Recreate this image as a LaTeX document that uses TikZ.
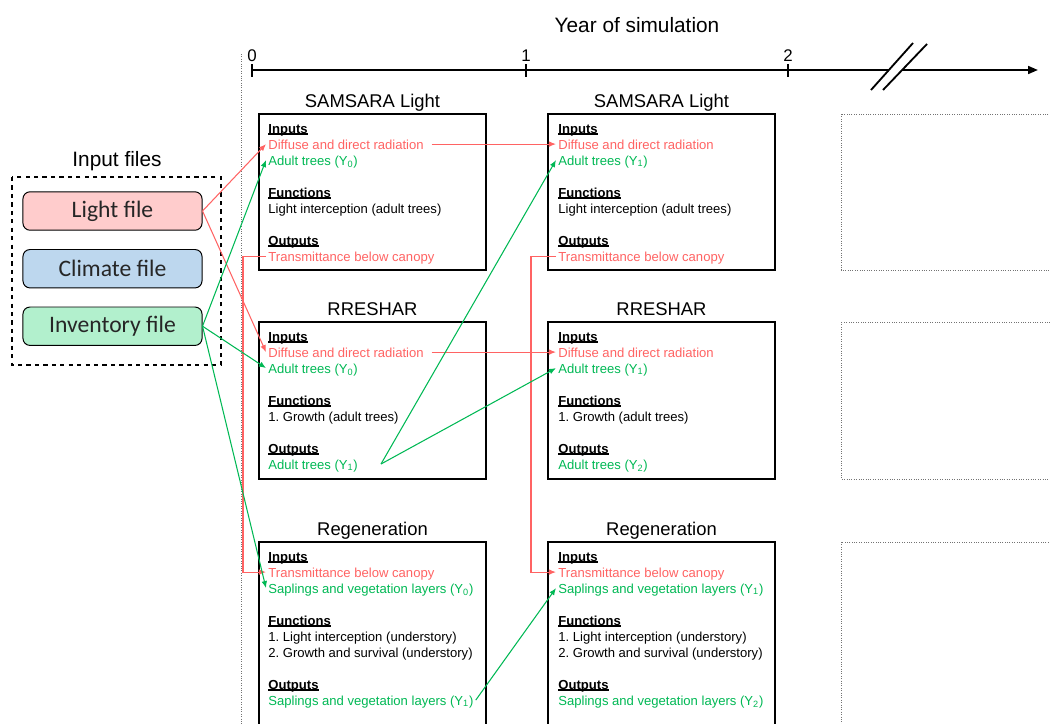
\documentclass[tikz,border=0pt]{standalone}
\usepackage{fontspec}
\setmainfont{Liberation Sans}
\newfontfamily\filefont{Carlito}
\usetikzlibrary{arrows.meta}
\frenchspacing

\definecolor{flowred}{RGB}{255,99,99}
\definecolor{flowgreen}{RGB}{0,184,84}
\definecolor{lightfill}{RGB}{255,204,204}
\definecolor{climatefill}{RGB}{189,215,238}
\definecolor{inventoryfill}{RGB}{178,240,205}
\definecolor{darktext}{RGB}{38,38,38}

\newcommand{\ulhead}[1]{\setbox0\hbox{#1}\rlap{\rule[-1.3pt]{\wd0}{1pt}}\box0}

\begin{document}
\begin{tikzpicture}[x=0.025cm, y=-0.025cm,
  txtline/.style={anchor=base west, inner xsep=1.5pt, inner ysep=0pt,
    text height=0.7em, text depth=0pt, font=\fontsize{9.3}{11}\selectfont},
  hd/.style={txtline, font=\fontsize{9.3}{11}\selectfont\bfseries},
  redtxt/.style={text=flowred},
  greentxt/.style={text=flowgreen},
  ttl/.style={anchor=base, inner sep=0pt, font=\fontsize{13.1}{15}\selectfont},
  modbox/.style={draw, line width=0.9pt},
  emptybox/.style={draw=black!55, densely dotted, line width=0.7pt},
  filebox/.style={draw, line width=0.7pt, rounded corners=5pt, minimum width=4.475cm,
    minimum height=0.96cm, text=darktext, font=\filefont\fontsize{16.8}{18}\selectfont},
  redflow/.style={draw=flowred, line width=0.75pt, -{Latex[length=5pt,width=4pt]}},
  greenflow/.style={draw=flowgreen, line width=0.75pt, -{Latex[length=5pt,width=4pt]}},
  axis/.style={line width=1.5pt}]
  \useasboundingbox (0,0) rectangle (1050,723);
  \clip (0,0) rectangle (1050,723);

  % Coordinates
  \coordinate (bus0) at (243,0);
  \coordinate (bus1) at (531,0);
  \coordinate (rr0-fork) at (381,464);

  % Time axis
  \node[anchor=base, font=\fontsize{14.8}{16}\selectfont] (yr) at (637,32) {Year of simulation};
  \draw[axis] (252,70) -- (889,70);
  \draw[axis, -{Triangle[length=7pt,width=5.5pt]}] (902,70) -- (1038,70);
  \draw[axis] (252,64) -- (252,77);
  \draw[axis] (526,64) -- (526,77);
  \draw[axis] (788,64) -- (788,77);
  \draw[line width=1.3pt] (871,90) -- (913,43);
  \draw[line width=1.3pt] (883,90) -- (927,44);
  \node[anchor=base, inner sep=0pt, font=\fontsize{12}{14}\selectfont] (t0) at (252,61) {0};
  \node[anchor=base, inner sep=0pt, font=\fontsize{12}{14}\selectfont] (t1) at (526,61) {1};
  \node[anchor=base, inner sep=0pt, font=\fontsize{12}{14}\selectfont] (t2) at (788,61) {2};
  \draw[black!55, densely dotted, line width=0.7pt] (241,54) -- (241,730);

  % Input files
  \node[anchor=base, inner sep=0pt, font=\fontsize{14.8}{16}\selectfont] (inputs) at (117,166) {Input files};
  \draw[dashed, line width=0.8pt] (12,177) rectangle (221,365);
  \node[filebox, fill=lightfill] (lightf) at (112.5,211) {Light file};
  \node[filebox, fill=climatefill] (climf) at (112.5,268.7) {Climate file};
  \node[filebox, fill=inventoryfill] (inventf) at (112.5,326.2) {Inventory file};

  % SAMSARA Light, year 0
  \node[ttl] (sl0) at (372.5,107) {SAMSARA Light};
  \draw[modbox] (259,114) rectangle (486,270);
  \node[hd] (sl0-in) at (266,133) {\ulhead{Inputs}};
  \node[txtline, redtxt] (sl0-rad) at (266,149) {Diffuse and direct radiation};
  \node[txtline, greentxt] (sl0-adult) at (266,165) {Adult trees (Y\textsubscript{0})};
  \node[hd] (sl0-fn) at (266,197) {\ulhead{Functions}};
  \node[txtline] (sl0-f1) at (266,213) {Light interception (adult trees)};
  \node[hd] (sl0-out) at (266,245) {\ulhead{Outputs}};
  \node[txtline, redtxt] (sl0-trans) at (266,261) {Transmittance below canopy};

  % SAMSARA Light, year 1
  \node[ttl] (sl1) at (661.5,107) {SAMSARA Light};
  \draw[modbox] (548,114) rectangle (775,270);
  \node[hd] (sl1-in) at (556,133) {\ulhead{Inputs}};
  \node[txtline, redtxt] (sl1-rad) at (556,149) {Diffuse and direct radiation};
  \node[txtline, greentxt] (sl1-adult) at (556,165) {Adult trees (Y\textsubscript{1})};
  \node[hd] (sl1-fn) at (556,197) {\ulhead{Functions}};
  \node[txtline] (sl1-f1) at (556,213) {Light interception (adult trees)};
  \node[hd] (sl1-out) at (556,245) {\ulhead{Outputs}};
  \node[txtline, redtxt] (sl1-trans) at (556,261) {Transmittance below canopy};

  % RRESHAR, year 0
  \node[ttl] (rr0) at (372.5,315) {RRESHAR};
  \draw[modbox] (259,322) rectangle (486,479);
  \node[hd] (rr0-in) at (266,341) {\ulhead{Inputs}};
  \node[txtline, redtxt] (rr0-rad) at (266,357) {Diffuse and direct radiation};
  \node[txtline, greentxt] (rr0-adult) at (266,373) {Adult trees (Y\textsubscript{0})};
  \node[hd] (rr0-fn) at (266,405) {\ulhead{Functions}};
  \node[txtline] (rr0-f1) at (266,421) {1. Growth (adult trees)};
  \node[hd] (rr0-out) at (266,453) {\ulhead{Outputs}};
  \node[txtline, greentxt] (rr0-res) at (266,469) {Adult trees (Y\textsubscript{1})};

  % RRESHAR, year 1
  \node[ttl] (rr1) at (661.5,315) {RRESHAR};
  \draw[modbox] (548,322) rectangle (775,479);
  \node[hd] (rr1-in) at (556,341) {\ulhead{Inputs}};
  \node[txtline, redtxt] (rr1-rad) at (556,357) {Diffuse and direct radiation};
  \node[txtline, greentxt] (rr1-adult) at (556,373) {Adult trees (Y\textsubscript{1})};
  \node[hd] (rr1-fn) at (556,405) {\ulhead{Functions}};
  \node[txtline] (rr1-f1) at (556,421) {1. Growth (adult trees)};
  \node[hd] (rr1-out) at (556,453) {\ulhead{Outputs}};
  \node[txtline, greentxt] (rr1-res) at (556,469) {Adult trees (Y\textsubscript{2})};

  % Regeneration, year 0
  \node[ttl] (rg0) at (372.5,535) {Regeneration};
  \draw[modbox] (259,542) rectangle (486,740);
  \node[hd] (rg0-in) at (266,561) {\ulhead{Inputs}};
  \node[txtline, redtxt] (rg0-trans) at (266,577) {Transmittance below canopy};
  \node[txtline, greentxt] (rg0-sap) at (266,593) {Saplings and vegetation layers (Y\textsubscript{0})};
  \node[hd] (rg0-fn) at (266,625) {\ulhead{Functions}};
  \node[txtline] (rg0-f1) at (266,641) {1. Light interception (understory)};
  \node[txtline] (rg0-f2) at (266,657) {2. Growth and survival (understory)};
  \node[hd] (rg0-outh) at (266,689) {\ulhead{Outputs}};
  \node[txtline, greentxt] (rg0-out) at (266,705) {Saplings and vegetation layers (Y\textsubscript{1})};

  % Regeneration, year 1
  \node[ttl] (rg1) at (661.5,535) {Regeneration};
  \draw[modbox] (548,542) rectangle (775,740);
  \node[hd] (rg1-in) at (556,561) {\ulhead{Inputs}};
  \node[txtline, redtxt] (rg1-trans) at (556,577) {Transmittance below canopy};
  \node[txtline, greentxt] (rg1-sap) at (556,593) {Saplings and vegetation layers (Y\textsubscript{1})};
  \node[hd] (rg1-fn) at (556,625) {\ulhead{Functions}};
  \node[txtline] (rg1-f1) at (556,641) {1. Light interception (understory)};
  \node[txtline] (rg1-f2) at (556,657) {2. Growth and survival (understory)};
  \node[hd] (rg1-outh) at (556,689) {\ulhead{Outputs}};
  \node[txtline, greentxt] (rg1-out) at (556,705) {Saplings and vegetation layers (Y\textsubscript{2})};

  % Year 2 (empty)
  \draw[emptybox] (841,114) rectangle (1060,270);
  \draw[emptybox] (841,322) rectangle (1060,479);
  \draw[emptybox] (841,542) rectangle (1060,740);

  % Light flows
  \draw[redflow] (lightf.east) -- (sl0-rad.west);
  \draw[redflow] (lightf.east) -- (rr0-rad.west);
  \draw[redflow, shorten <=4pt] (sl0-rad.east) -- (sl1-rad.west);
  \draw[redflow, shorten <=4pt] (rr0-rad.east) -- (rr1-rad.west);
  \draw[redflow] (sl0-trans.west) -- (sl0-trans.west -| bus0) |- (rg0-trans.west);
  \draw[redflow] (sl1-trans.west) -- (sl1-trans.west -| bus1) |- (rg1-trans.west);

  % Tree flows
  \draw[greenflow] (inventf.east) -- (sl0-adult.west);
  \draw[greenflow] (inventf.east) -- (rr0-adult.west);
  \draw[greenflow] (inventf.east) -- (rg0-sap.west);
  \draw[greenflow] (rr0-fork) -- (sl1-adult.west);
  \draw[greenflow] (rr0-fork) -- (rr1-adult.west);
  \draw[greenflow] (rg0-out.east) -- (rg1-sap.west);
\end{tikzpicture}
\end{document}
